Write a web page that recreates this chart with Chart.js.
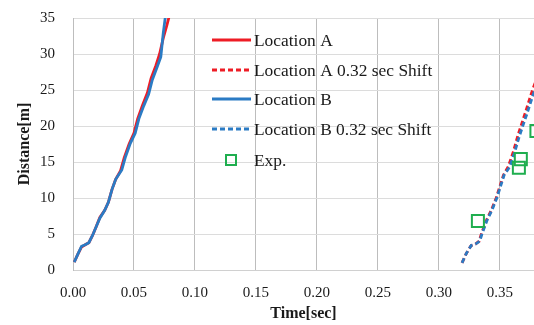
<!DOCTYPE html>
<html>
<head>
<meta charset="utf-8">
<script src="https://cdn.jsdelivr.net/npm/chart.js@4/dist/chart.umd.min.js"></script>
<style>
  html, body { margin: 0; padding: 0; background: #fff; overflow: hidden; }
  #wrap { width: 534px; height: 325px; }
</style>
</head>
<body>
<div id="wrap"><canvas id="chart" width="534" height="325"></canvas></div>
<script>
// 읽어낸 데이터 (time [sec], distance [m])
const locA = [[0.001,1.1],[0.004,2.2],[0.007,3.2],[0.010,3.5],[0.013,3.8],[0.016,4.8],[0.019,6.0],[0.022,7.3],[0.026,8.3],[0.029,9.4],[0.032,11.2],[0.035,12.6],[0.039,13.8],[0.042,15.6],[0.046,17.5],[0.050,19.0],[0.053,21.0],[0.057,22.9],[0.061,24.6],[0.064,26.6],[0.068,28.4],[0.071,30.0],[0.074,32.2],[0.077,34.0],[0.080,36.0]];
const locB = [[0.001,1.1],[0.004,2.2],[0.007,3.3],[0.010,3.5],[0.013,3.8],[0.016,4.8],[0.019,6.0],[0.022,7.2],[0.026,8.3],[0.029,9.4],[0.032,11.2],[0.035,12.6],[0.040,13.9],[0.043,15.7],[0.047,17.6],[0.051,19.0],[0.054,21.0],[0.058,22.8],[0.062,24.4],[0.065,26.4],[0.069,28.2],[0.072,29.6],[0.074,32.9],[0.076,35.5],[0.077,37.0]];
const locAShift = [[0.319,1.0],[0.3225,2.3],[0.3265,3.4],[0.330,3.6],[0.333,4.0],[0.335,5.1],[0.339,6.9],[0.343,8.3],[0.347,10.0],[0.350,11.6],[0.353,13.2],[0.357,14.4],[0.361,16.4],[0.365,18.8],[0.371,21.9],[0.376,24.6],[0.380,26.5]];
const locBShift = [[0.319,1.0],[0.3225,2.3],[0.3265,3.4],[0.330,3.6],[0.3335,4.0],[0.3355,5.1],[0.3395,6.9],[0.3435,8.3],[0.3475,10.0],[0.3505,11.6],[0.3535,13.2],[0.358,14.3],[0.362,16.3],[0.366,18.6],[0.372,21.6],[0.377,24.2],[0.381,26.0]];
const expData = [[0.332,6.8],[0.3656,14.2],[0.3672,15.4],[0.380,19.3],[0.3805,20.5]];
const xTicks = [0, 0.05, 0.10, 0.15, 0.20, 0.25, 0.30, 0.35];
const yTicks = [0, 5, 10, 15, 20, 25, 30, 35];
const labels = ["Location A", "Location A 0.32 sec Shift", "Location B", "Location B 0.32 sec Shift", "Exp."];

const RED = "#ee1c25";
const BLUE = "#2b7bc4";
const GREEN = "#1fae4f";
const SERIF = "'Liberation Serif', 'DejaVu Serif', serif";

const toXY = arr => arr.map(p => ({ x: p[0], y: p[1] }));

// 플롯 안쪽 범례 직접 그리기
const innerLegend = {
  id: "innerLegend",
  afterDatasetsDraw(chart) {
    const ctx = chart.ctx;
    const x0 = 212, x1 = 251, tx = 254;
    const rows = [40, 70, 99, 129, 160];
    ctx.save();
    ctx.font = "17.4px " + SERIF;
    ctx.textBaseline = "middle";
    ctx.fillStyle = "#1a1a1a";
    chart.data.datasets.forEach((ds, i) => {
      const y = rows[i];
      if (ds.showLine === false) {
        ctx.strokeStyle = ds.borderColor;
        ctx.lineWidth = 2;
        ctx.strokeRect(231 - 5, y - 5, 10, 10);
      } else {
        ctx.strokeStyle = ds.borderColor;
        ctx.lineWidth = ds.borderWidth;
        ctx.setLineDash(ds.borderDash || []);
        ctx.beginPath();
        ctx.moveTo(x0, y);
        ctx.lineTo(x1, y);
        ctx.stroke();
        ctx.setLineDash([]);
      }
      ctx.fillText(ds.label, tx, y + 1);
    });
    ctx.restore();
  }
};

new Chart(document.getElementById("chart"), {
  type: "scatter",
  data: {
    datasets: [
      { label: labels[0], data: toXY(locA), order: 3, showLine: true, borderColor: RED, borderWidth: 2.8, pointRadius: 0 },
      { label: labels[1], data: toXY(locAShift), order: 4, showLine: true, borderColor: RED, borderWidth: 2.8, borderDash: [5, 3], pointRadius: 0 },
      { label: labels[2], data: toXY(locB), order: 1, showLine: true, borderColor: BLUE, borderWidth: 2.8, pointRadius: 0 },
      { label: labels[3], data: toXY(locBShift), order: 2, showLine: true, borderColor: BLUE, borderWidth: 2.8, borderDash: [5, 3], pointRadius: 0 },
      { label: labels[4], data: toXY(expData), order: 0, showLine: false, borderColor: GREEN, backgroundColor: "rgba(0,0,0,0)",
        pointStyle: "rect", pointRadius: 8.5, pointBorderWidth: 2 }
    ]
  },
  options: {
    responsive: false,
    animation: false,
    layout: { autoPadding: false, padding: { top: 18, right: 0, left: 0, bottom: 0 } },
    plugins: { legend: { display: false }, tooltip: { enabled: false } },
    scales: {
      x: {
        type: "linear", min: 0, max: 0.378,
        afterBuildTicks: s => { s.ticks = xTicks.map(v => ({ value: v })); },
        afterFit: s => { s.height = 55; s.paddingLeft = 0; s.paddingRight = 0; },
        grid: { color: "#bdbdbd", drawTicks: false },
        border: { color: "#d0d0d0" },
        ticks: { padding: 14, color: "#1a1a1a", font: { family: SERIF, size: 15 }, callback: v => v.toFixed(2) },
        title: { display: true, text: "Time[sec]", color: "#1a1a1a", font: { family: SERIF, size: 16, weight: "bold" }, padding: { top: 2, bottom: 2 } }
      },
      y: {
        type: "linear", min: 0, max: 35,
        afterBuildTicks: s => { s.ticks = yTicks.map(v => ({ value: v })); },
        afterFit: s => { s.width = 73; s.paddingTop = 0; s.paddingBottom = 0; },
        grid: { color: "#dcdcdc", drawTicks: false },
        border: { color: "#bdbdbd" },
        ticks: { padding: 18, color: "#1a1a1a", font: { family: SERIF, size: 15 } },
        title: { display: true, text: "Distance[m]", color: "#1a1a1a", font: { family: SERIF, size: 16, weight: "bold" }, padding: { top: 15, bottom: 0 } }
      }
    }
  },
  plugins: [innerLegend]
});
</script>
</body>
</html>
